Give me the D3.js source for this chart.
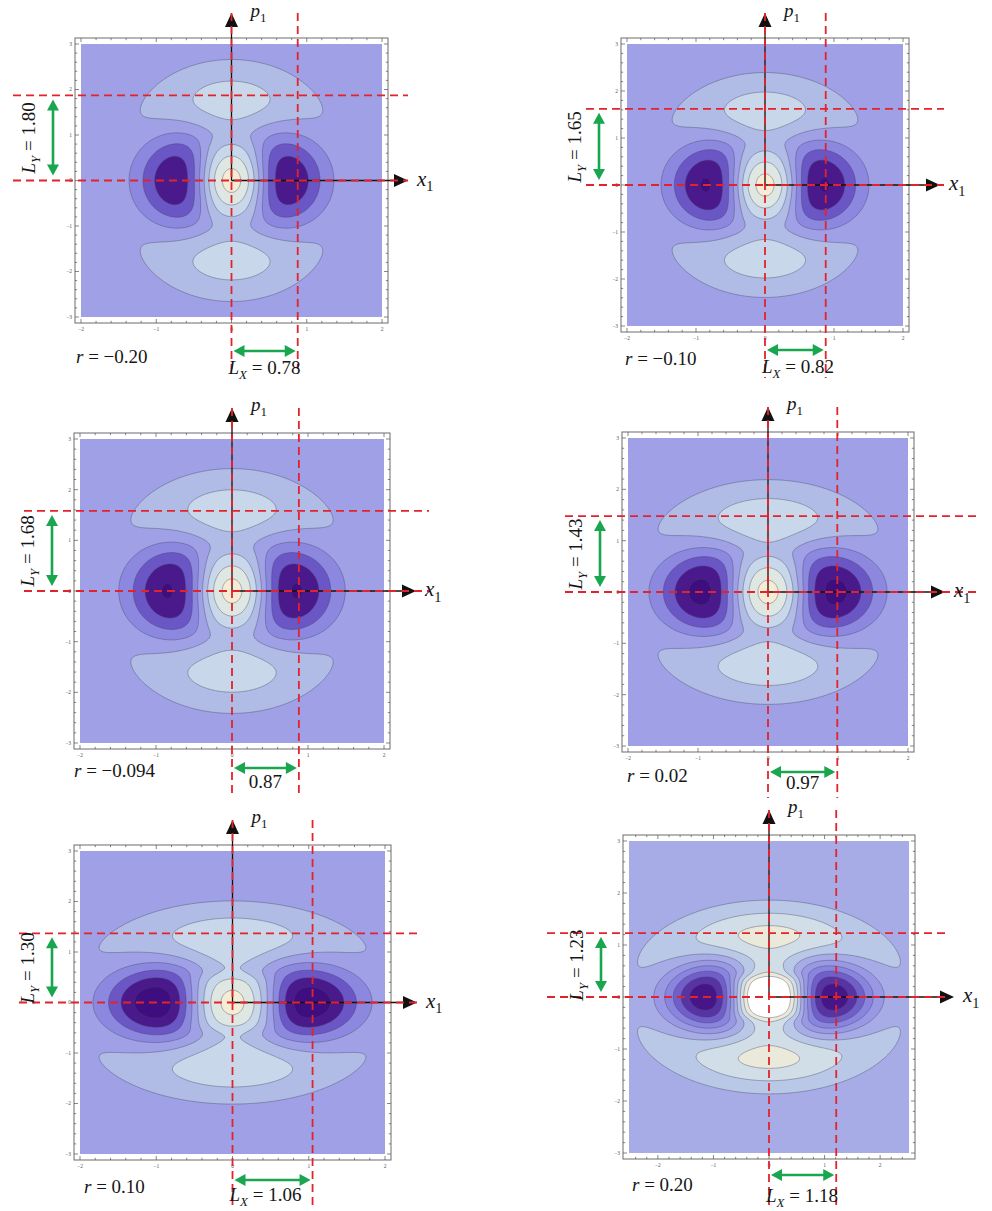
<!DOCTYPE html>
<html lang="en">
<head>
<meta charset="UTF-8" />
<title>wigner contours</title>
<style>
  body { margin: 0; background: #fff; }
  text { font-family: "Liberation Serif", "DejaVu Serif", serif; white-space: pre; }
</style>
</head>
<body>
<svg id="fig" width="992" height="1211" viewBox="0 0 992 1211"></svg>
<script src="https://cdn.jsdelivr.net/npm/d3@7"></script>
<script>
  var width = 992;
  var height = 1211;

  // labels under / beside each plot
  var rLabels = ['\u22120.20', '\u22120.10', '\u22120.094', '0.02', '0.10', '0.20'];
  var lxValues = ['0.78', '0.82', '0.87', '0.97', '1.06', '1.18'];
  var lxNamed = [true, true, false, false, true, true];
  var lyValues = ['1.80', '1.65', '1.68', '1.43', '1.30', '1.23'];

  // plotted x1 half-range (p1 always -3..3)
  var xRange = [2, 2, 2, 2, 2, 2.52];
  var pRange = 3;

  // contour shape: length scales and the
  // relative height of the side dips, the neck and the top lobes
  var sxValues = [0.84, 0.93, 0.92, 1.05, 1.13, 1.25];
  var spValues = [1.16, 1.04, 1.05, 0.95, 0.88, 0.80];
  var minLevel = [-0.74, -0.80, -0.80, -0.86, -0.95, -0.93];
  var neckLevel = [0.30, 0.32, 0.32, 0.37, 0.46, 0.45];
  var topLevel = [0.55, 0.57, 0.57, 0.60, 0.62, 0.62];
  var crossTerm = [2.9, 2.9, 2.9, 3.0, 3.2, 3.2];
  // central peak: height, half-widths, and whether it is folded into the scale
  var peakHeight = [0.3, 0.3, 0.3, 0.3, 0.35, 0.3];
  var peakU = [0.5, 0.5, 0.5, 0.5, 0.55, 0.55];
  var peakV = [0.75, 0.75, 0.75, 0.72, 0.62, 0.5];
  var peakScaled = [true, true, true, true, true, false];
  // contour spacing and offset
  var stepValues = [0.24, 0.24, 0.24, 0.24, 0.24, 0.19];
  var offsetValues = [0.18, 0.18, 0.18, 0.18, 0.18, 0.17];

  // where the red dashed guides sit (data units)
  var guideX = [0.88, 0.88, 0.88, 0.99, 1.05, 1.21];
  var guideP = [1.87, 1.62, 1.58, 1.48, 1.37, 1.23];

  var xTicks = [-2, -1, 0, 1, 2];
  var pTicks = [-3, -2, -1, 0, 1, 2, 3];

  // page layout: inner plot box [left, top, right, bottom] and label offsets
  var layout = [
    { box: [81, 44, 382, 317], arrowR: 20, ext: [62, 20], rDx: 1, rDy: 40, lxDy: 51, gDy: 28 },
    { box: [627, 44, 903, 326], arrowR: 31, ext: [35, 35], rDx: 4, rDy: 33, lxDy: 41, gDy: 18 },
    { box: [80, 439, 384, 743], arrowR: 26, ext: [50, 39], rDx: 0, rDy: 28, lxDy: 39, gDy: 19 },
    { box: [628, 438, 908, 746], arrowR: 31, ext: [57, 63], rDx: 5, rDy: 30, lxDy: 37, gDy: 20 },
    { box: [80, 851, 385, 1154], arrowR: 26, ext: [55, 30], rDx: 10, rDy: 33, lxDy: 41, gDy: 20 },
    { box: [629, 841, 909, 1153], arrowR: 39, ext: [76, 32], rDx: 9, rDy: 32, lxDy: 43, gDy: 16 }
  ];
  var pad = 6;

  var colorScale = d3.scaleLinear()
    .domain([0, 0.05, 0.17, 0.29, 0.41, 0.53, 0.65, 0.77, 0.89, 0.975, 1])
    .range(['#340a70', '#3e0e80', '#4a1a8c', '#6a56c4', '#8c88e0', '#a0a0e6',
            '#b0bce6', '#c8d8ea', '#dfe7e2', '#f4ecd4', '#ffffff'])
    .clamp(true);
  // value -> colour position, per panel (the last plot is clipped to white at the top)
  var colorDomain = [
    [-1, 0, 1], [-1, 0, 1], [-1, 0, 1], [-1, 0, 1], [-1, 0, 1], [-1.15, 0.075, 0.74]
  ];
  var colorRange = [
    [0, 0.5, 1], [0, 0.5, 1], [0, 0.5, 1], [0, 0.5, 1], [0, 0.5, 1], [0, 0.58, 1]
  ];
  var lineMax = [9, 9, 9, 9, 9, 0.78];

  var red = '#e3232b';
  var green = '#19a64e';

  var svg = d3.select('#fig');

  function peakAt(i, u, v) {
    return peakHeight[i] * Math.exp(-Math.pow(u / peakU[i], 4) - Math.pow(v / peakV[i], 6));
  }

  // solve a*x1 + b*x2 = c for two rows
  function solve2(r1, r2) {
    var det = r1[0] * r2[1] - r1[1] * r2[0];
    return [(r1[2] * r2[1] - r1[1] * r2[2]) / det, (r1[0] * r2[2] - r1[2] * r2[0]) / det];
  }

  function shapeFor(i) {
    var S = peakScaled[i] ? 1 + peakHeight[i] : 1;
    function row(t, target, peakVal) {
      return [t * t, t * t * t * t, (target * S - peakVal) * Math.exp(t * t) - 1];
    }
    var pv = solve2(row(0.9, neckLevel[i], peakAt(i, 0, 0.9)), row(1.5, topLevel[i], peakAt(i, 0, 1.5)));
    var pu = solve2(row(0.95, minLevel[i], peakAt(i, 0.95, 0)), row(1.62, -0.06, peakAt(i, 1.62, 0)));
    return { a2: pv[0], a4: pv[1], b2: pu[0], b4: pu[1], m: crossTerm[i], S: S };
  }

  function drawPanel(i) {
    var L = layout[i], b = L.box;
    var x = d3.scaleLinear().domain([-xRange[i], xRange[i]]).range([b[0], b[2]]);
    var y = d3.scaleLinear().domain([-pRange, pRange]).range([b[3], b[1]]);
    var fl = b[0] - pad, ft = b[1] - pad, fr = b[2] + pad, fb = b[3] + pad;
    var g = svg.append('g');
    var sh = shapeFor(i);

    function field(xv, pv) {
      var u = xv / sxValues[i], v = pv / spValues[i];
      var u2 = u * u, v2 = v * v;
      var poly = 1 + sh.b2 * u2 + sh.a2 * v2 + sh.b4 * u2 * u2 + sh.m * u2 * v2 + sh.a4 * v2 * v2;
      return (Math.exp(-u2 - v2) * poly + peakAt(i, u, v)) / sh.S;
    }

    g.append('clipPath').attr('id', 'clip' + i)
      .append('rect')
      .attr('x', b[0]).attr('y', b[1])
      .attr('width', b[2] - b[0]).attr('height', b[3] - b[1]);

    // sample the field on a grid a bit larger than the plot
    var n = 240, m = 300;
    var x0 = -xRange[i] - 0.05, x1 = xRange[i] + 0.05;
    var p0 = pRange + 0.05, p1 = -pRange - 0.05;
    var dx = (x1 - x0) / (n - 1), dp = (p1 - p0) / (m - 1);
    var values = new Float64Array(n * m);
    for (var r = 0; r < m; r++) {
      var pv = p0 + r * dp;
      for (var c = 0; c < n; c++) values[r * n + c] = field(x0 + c * dx, pv);
    }
    var lo = d3.min(values), hi = d3.max(values), h = stepValues[i];
    var thresholds = d3.range(-10, 10).map(k => k * h + offsetValues[i]).filter(t => t > lo && t < hi);
    var contours = d3.contours().size([n, m]).thresholds(thresholds)(values);

    var path = d3.geoPath(d3.geoTransform({
      point: function (gx, gy) {
        this.stream.point(x(x0 + (gx - 0.5) * dx), y(p0 + (gy - 0.5) * dp));
      }
    }));
    var toT = d3.scaleLinear().domain(colorDomain[i]).range(colorRange[i]);
    var bandColor = v => colorScale(toT(v));

    var plot = g.append('g').attr('clip-path', 'url(#clip' + i + ')');
    plot.append('rect')
      .attr('x', b[0]).attr('y', b[1])
      .attr('width', b[2] - b[0]).attr('height', b[3] - b[1])
      .attr('fill', bandColor(thresholds[0] - h / 2));
    plot.selectAll('path.band')
      .data(contours)
      .join('path')
      .attr('class', 'band')
      .attr('d', path)
      .attr('fill', d => bandColor((d.value + Math.min(d.value + h, hi)) / 2));
    plot.selectAll('path.line')
      .data(contours.filter(d => d.value < lineMax[i]))
      .join('path')
      .attr('class', 'line')
      .attr('d', path)
      .attr('fill', 'none')
      .attr('stroke', '#44445e')
      .attr('stroke-opacity', 0.5)
      .attr('stroke-width', 0.8);

    // frame with mathematica-like ticks
    g.append('rect')
      .attr('x', fl).attr('y', ft)
      .attr('width', fr - fl).attr('height', fb - ft)
      .attr('fill', 'none').attr('stroke', '#6d6d6d').attr('stroke-width', 1);

    var xr = xRange[i];
    var xMinor = d3.range(Math.ceil(-xr * 5), Math.floor(xr * 5) + 1).map(k => k / 5);
    var pMinor = d3.range(-15, 16).map(k => k / 5);
    var ticks = g.append('g').attr('stroke', '#555').attr('stroke-width', 0.7);
    xMinor.forEach(function (v) {
      var major = Math.abs(v - Math.round(v)) < 1e-9;
      var len = major ? 4 : 2.2;
      ticks.append('line').attr('x1', x(v)).attr('x2', x(v)).attr('y1', fb).attr('y2', fb - len);
      ticks.append('line').attr('x1', x(v)).attr('x2', x(v)).attr('y1', ft).attr('y2', ft + len);
    });
    pMinor.forEach(function (v) {
      var major = Math.abs(v - Math.round(v)) < 1e-9;
      var len = major ? 4 : 2.2;
      ticks.append('line').attr('y1', y(v)).attr('y2', y(v)).attr('x1', fl).attr('x2', fl + len);
      ticks.append('line').attr('y1', y(v)).attr('y2', y(v)).attr('x1', fr).attr('x2', fr - len);
    });
    var tickText = g.append('g')
      .style('font-family', '"DejaVu Sans", sans-serif')
      .attr('font-size', 5.5).attr('fill', '#555');
    tickText.selectAll('text.xt')
      .data(xTicks)
      .join('text')
      .attr('x', d => x(d)).attr('y', fb + 8)
      .attr('text-anchor', 'middle')
      .text(d => d < 0 ? '\u2212' + (-d) : d);
    tickText.selectAll('text.pt')
      .data(pTicks)
      .join('text')
      .attr('x', fl - 3).attr('y', d => y(d))
      .attr('dy', '0.35em')
      .attr('text-anchor', 'end')
      .text(d => d < 0 ? '\u2212' + (-d) : d);

    // black coordinate axes with arrow heads
    var ox = x(0), oy = y(0);
    var topTip = ft - 25, rightTip = fr + L.arrowR;
    g.append('line').attr('x1', ox).attr('y1', oy).attr('x2', ox).attr('y2', topTip + 10)
      .attr('stroke', '#111').attr('stroke-width', 1.3);
    g.append('line').attr('x1', ox).attr('y1', oy).attr('x2', rightTip - 10).attr('y2', oy)
      .attr('stroke', '#111').attr('stroke-width', 1.3);
    arrowHead(g, ox, topTip, 0, -1, 14, 6.5, '#111');
    arrowHead(g, rightTip, oy, 1, 0, 14, 6.5, '#111');

    // red dashed guides
    var dashes = g.append('g')
      .attr('stroke', red).attr('stroke-width', 1.8).attr('stroke-dasharray', '8,5');
    [0, guideX[i]].forEach(function (v) {
      dashes.append('line').attr('x1', x(v)).attr('x2', x(v)).attr('y1', topTip).attr('y2', fb + 46);
    });
    [0, guideP[i]].forEach(function (v) {
      dashes.append('line').attr('y1', y(v)).attr('y2', y(v))
        .attr('x1', fl - L.ext[0]).attr('x2', fr + L.ext[1]);
    });

    // green double arrows
    var gx = fl - 22;
    doubleArrow(g, gx, y(guideP[i]) + 4, gx, oy - 5);
    var gy = fb + L.gDy;
    doubleArrow(g, ox + 2, gy, x(guideX[i]) - 2, gy);

    // text
    mathText(g, [['p', true], ['1', false, true]], 19)
      .attr('x', ox + 19).attr('y', Math.max(topTip + 3, 17));
    mathText(g, [['x', true], ['1', false, true]], 21)
      .attr('x', rightTip + 9).attr('y', oy + 5);
    mathText(g, [['r', true], [' = ' + rLabels[i]]], 19)
      .attr('x', fl + L.rDx).attr('y', fb + L.rDy);
    if (lxNamed[i]) {
      mathText(g, [['L', true], ['X', true, true], [' = ' + lxValues[i]]], 19)
        .attr('x', ox - 3).attr('y', fb + L.lxDy);
    } else {
      mathText(g, [[lxValues[i]]], 19)
        .attr('text-anchor', 'middle')
        .attr('x', (ox + x(guideX[i])) / 2).attr('y', fb + L.lxDy);
    }
    mathText(g, [['L', true], ['Y', true, true], [' = ' + lyValues[i]]], 19)
      .attr('text-anchor', 'middle')
      .attr('transform', 'translate(' + (fl - 40) + ',' + ((y(guideP[i]) + oy) / 2) + ') rotate(-90)');
  }

  function arrowHead(sel, tx, ty, ux, uy, len, half, color) {
    // triangle with its tip at (tx, ty) pointing along (ux, uy)
    var bx = tx - ux * len, by = ty - uy * len;
    var pts = [[tx, ty], [bx - uy * half, by + ux * half], [bx + uy * half, by - ux * half]];
    sel.append('path').attr('d', 'M' + pts.join('L') + 'Z').attr('fill', color);
  }

  function doubleArrow(sel, xa, ya, xb, yb) {
    var len = Math.hypot(xb - xa, yb - ya), ux = (xb - xa) / len, uy = (yb - ya) / len;
    var head = 11;
    sel.append('line')
      .attr('x1', xa + ux * head * 0.8).attr('y1', ya + uy * head * 0.8)
      .attr('x2', xb - ux * head * 0.8).attr('y2', yb - uy * head * 0.8)
      .attr('stroke', green).attr('stroke-width', 2.6);
    arrowHead(sel, xb, yb, ux, uy, head, 6, green);
    arrowHead(sel, xa, ya, -ux, -uy, head, 6, green);
  }

  function mathText(sel, parts, size) {
    var t = sel.append('text').attr('font-size', size).attr('fill', '#161616');
    var shifted = false;
    parts.forEach(function (pt) {
      var ts = t.append('tspan').text(pt[0]);
      if (pt[1]) ts.attr('font-style', 'italic');
      if (pt[2]) {
        ts.attr('font-size', size * 0.68).attr('dy', size * 0.28);
        shifted = true;
      } else if (shifted) {
        ts.attr('dy', -size * 0.28);
        shifted = false;
      }
    });
    return t;
  }

  d3.range(6).forEach(drawPanel);
</script>
</body>
</html>
